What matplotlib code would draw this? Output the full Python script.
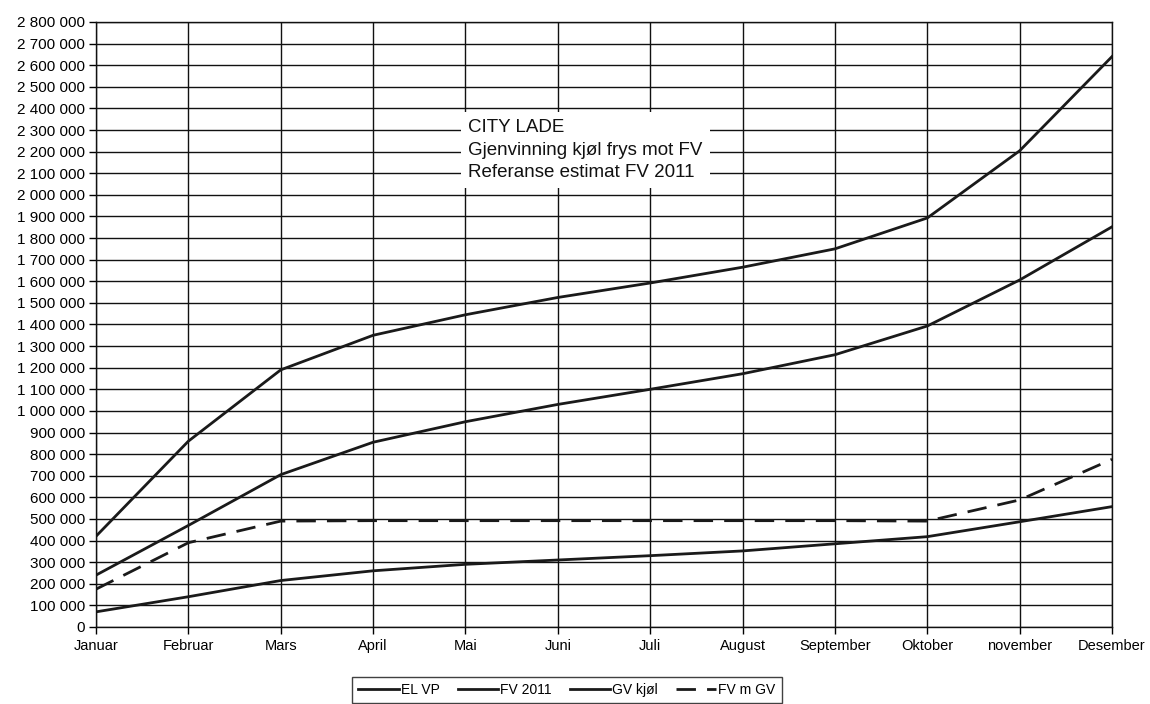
import matplotlib
matplotlib.use("Agg")
import matplotlib.pyplot as plt
from matplotlib.ticker import FuncFormatter, MultipleLocator

plt.rcParams["font.family"] = ["Liberation Sans", "DejaVu Sans"]

months = ["Januar", "Februar", "Mars", "April", "Mai", "Juni", "Juli",
          "August", "September", "Oktober", "november", "Desember"]

el_vp = [70000, 140000, 215000, 260000, 290000, 310000, 330000,
         352000, 385000, 418000, 487000, 557000]
fv_2011 = [420000, 860000, 1190000, 1350000, 1445000, 1525000, 1592000,
           1665000, 1750000, 1893000, 2204000, 2640000]
gv_kjol = [240000, 470000, 705000, 855000, 950000, 1030000, 1100000,
           1172000, 1260000, 1393000, 1606000, 1852000]
fv_m_gv = [175000, 390000, 490000, 492000, 492000, 492000, 492000,
           492000, 492000, 490000, 588000, 776000]

fig = plt.figure(figsize=(11.5, 7.04), dpi=100)
ax = fig.add_axes([0.0835, 0.1094, 0.8835, 0.8594])

x = range(len(months))
ax.plot(x, el_vp, color="#1a1a1a", lw=2.0, label="EL VP")
ax.plot(x, fv_2011, color="#1a1a1a", lw=2.0, label="FV 2011")
ax.plot(x, gv_kjol, color="#1a1a1a", lw=2.0, label="GV kjøl")
ax.plot(x, fv_m_gv, color="#1a1a1a", lw=2.0, ls=(0, (7, 4)), label="FV m GV")

ax.set_xlim(0, 11)
ax.set_ylim(0, 2800000)
ax.set_xticks(list(x))
ax.set_xticklabels(months, fontsize=10.5)
ax.yaxis.set_major_locator(MultipleLocator(100000))
ax.yaxis.set_major_formatter(FuncFormatter(lambda v, p: f"{int(v):,}".replace(",", " ")))
ax.tick_params(axis="y", labelsize=11, length=5, width=1, direction="out", pad=3)
ax.tick_params(axis="x", length=5, width=1, direction="out", pad=4)

ax.grid(True, color="#111111", lw=1.0)
ax.set_axisbelow(True)
for s in ax.spines.values():
    s.set_color("#111111")
    s.set_linewidth(1.0)

ax.text(4.03, 2207000, "CITY LADE\nGjenvinning kjøl frys mot FV\nReferanse estimat FV 2011",
        fontsize=13.5, color="#111111", ha="left", va="center", linespacing=1.45,
        bbox=dict(facecolor="white", edgecolor="none", pad=5), zorder=5)

leg = fig.legend(loc="center", bbox_to_anchor=(0.493, 0.02), ncol=4, fontsize=10,
                 frameon=True, fancybox=False, handlelength=2.9, handletextpad=0.15,
                 columnspacing=1.3, borderpad=0.45)
leg.get_frame().set_edgecolor("#111111")
leg.get_frame().set_linewidth(1.0)

fig.savefig("out.png", dpi=100)
